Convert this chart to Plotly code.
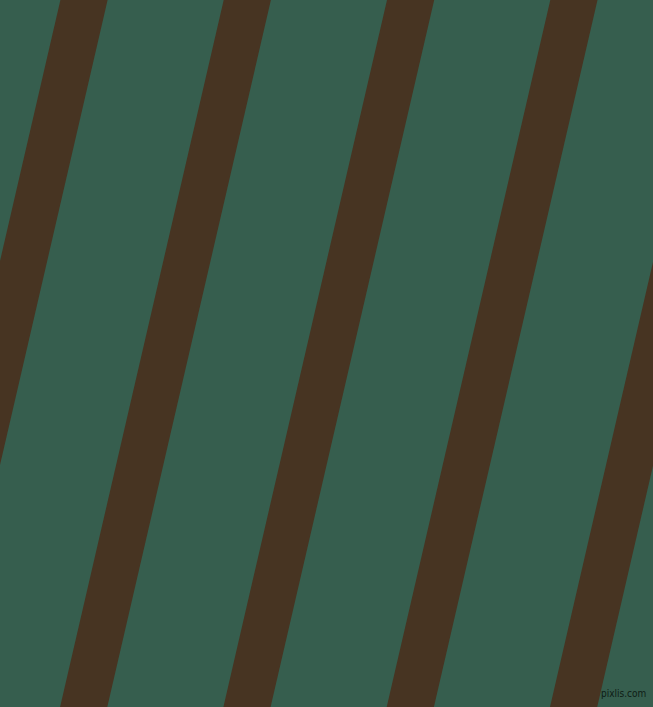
import plotly.graph_objects as go

# stripe left edges (px) at the top (y=0) and at the bottom (y=707)
stripe_top_x = [60.4, 223.7, 387.0, 550.3, 713.6]
stripe_bottom_x = [-103.2, 60.1, 223.4, 386.7, 550.0]
stripe_width = 47.2

W, H = 653, 707
bg_color = "#365e4e"
stripe_color = "#473422"

fig = go.Figure()
for xt, xb in zip(stripe_top_x, stripe_bottom_x):
    fig.add_trace(go.Scatter(
        x=[xt, xt + stripe_width, xb + stripe_width, xb, xt],
        y=[0, 0, H, H, 0],
        mode="lines", fill="toself",
        fillcolor=stripe_color, line=dict(width=0, color=stripe_color),
        hoverinfo="skip", showlegend=False,
    ))

fig.add_annotation(
    x=648, y=701, xref="x", yref="y", text="pixlis.com",
    showarrow=False, xanchor="right", yanchor="bottom",
    font=dict(family="DejaVu Sans Condensed", size=10, color="#0e1c15"),
)

fig.update_xaxes(range=[0, W], visible=False, fixedrange=True)
fig.update_yaxes(range=[H, 0], visible=False, fixedrange=True)
fig.update_layout(
    width=W, height=H,
    margin=dict(l=0, r=0, t=0, b=0),
    plot_bgcolor=bg_color, paper_bgcolor=bg_color,
)

fig.write_html("out.html", config={"displayModeBar": False},
               post_script="document.body.style.margin='0';document.body.style.overflow='hidden';")
